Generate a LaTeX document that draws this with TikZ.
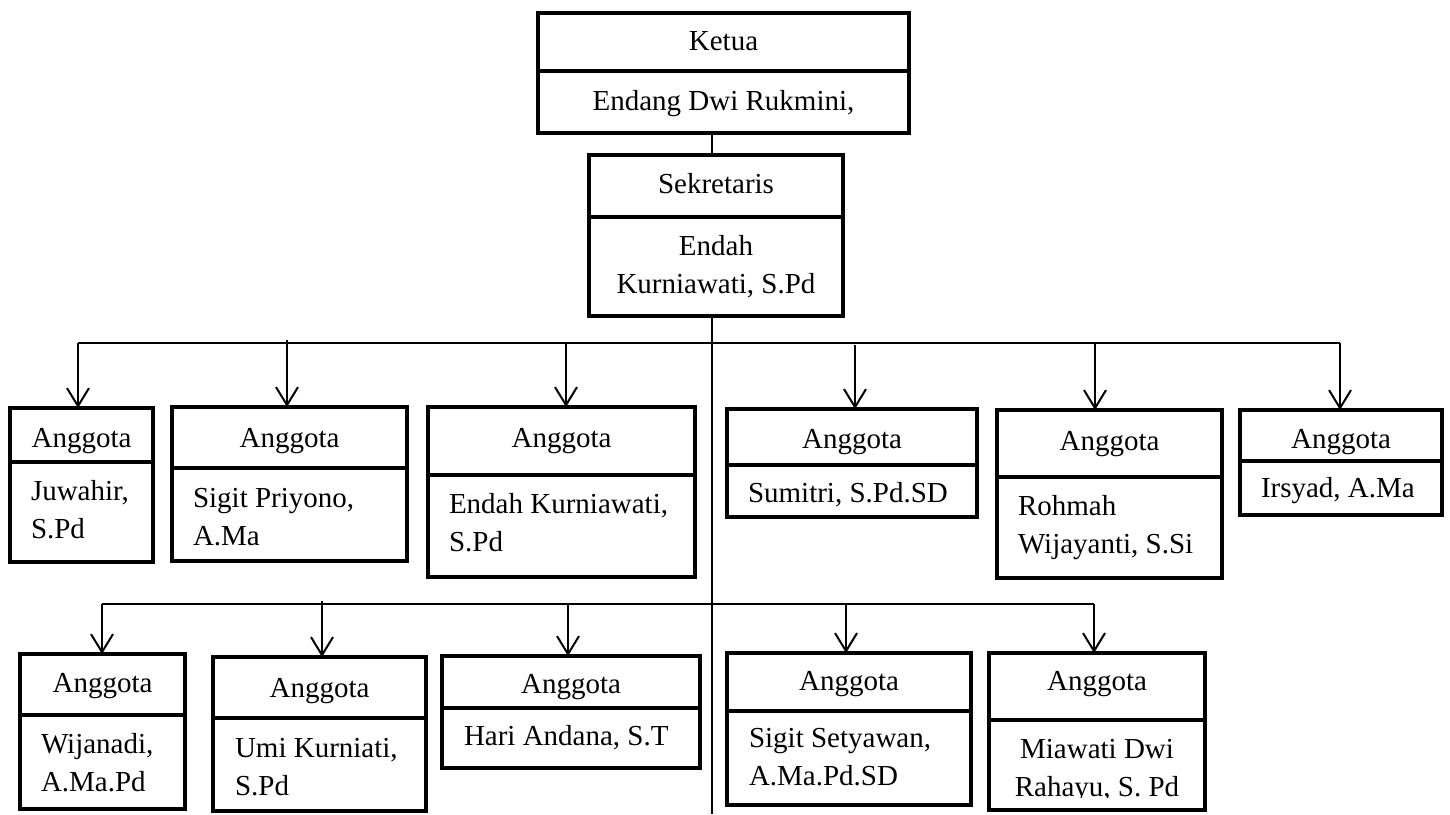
\documentclass[tikz,border=0pt]{standalone}
\usepackage{fontspec}
\setmainfont{Liberation Serif}
\usetikzlibrary{arrows.meta}
\hyphenpenalty=10000
\exhyphenpenalty=10000
\tikzset{
  cell/.style={draw, line width=4pt, inner sep=0pt, outer sep=0pt, anchor=north west,
    font=\fontsize{29}{38}\selectfont, align=flush center},
  lcell/.style={cell, align=flush left},
  tb/.style 2 args={text height=#1, text depth=#2},
  txt/.style={inner sep=0pt, outer sep=0pt, font=\fontsize{29}{38}\selectfont, align=flush center},
  link/.style={line width=2pt},
  bus/.style={line width=1.6pt},
  arr/.style={line width=2pt, -{Straight Barb[length=18pt,width=22pt]}},
}
\begin{document}
\begin{tikzpicture}[x=1pt,y=-1pt]
\useasboundingbox (0,0) rectangle (1450,814);

% Ketua
\node[cell, minimum width=371pt, minimum height=58pt, tb={37pt}{21pt}] (kh) at (538,13) {Ketua};
\node[cell, minimum width=371pt, minimum height=62pt, tb={39pt}{23pt}, text width=351pt] (kb) at (kh.south west) {Endang Dwi Rukmini,};
% Sekretaris
\node[cell, minimum width=254pt, minimum height=62pt, tb={38pt}{24pt}] (sh) at (589,155) {Sekretaris};
\node[cell, minimum width=254pt, minimum height=99pt, tb={38pt}{61pt}, text width=234pt] (sb) at (sh.south west) {Endah\\Kurniawati, S.Pd};

% Row 1 members
\node[cell, minimum width=143pt, minimum height=54pt, tb={39pt}{15pt}] (m1h) at (10,408) {Anggota};
\node[lcell, minimum width=143pt, minimum height=100pt, tb={38pt}{62pt}, text width=101pt] (m1b) at (m1h.south west) {Juwahir,\\S.Pd};

\node[cell, minimum width=235pt, minimum height=61pt, tb={40pt}{21pt}] (m2h) at (172,407) {Anggota};
\node[lcell, minimum width=235pt, minimum height=93pt, tb={39pt}{54pt}, text width=193pt] (m2b) at (m2h.south west) {Sigit Priyono,\\A.Ma};

\node[cell, minimum width=267pt, minimum height=68pt, tb={40pt}{28pt}] (m3h) at (428,407) {Anggota};
\node[lcell, minimum width=267pt, minimum height=102pt, tb={38pt}{64pt}, text width=225pt] (m3b) at (m3h.south west) {Endah Kurniawati,\\S.Pd};

\node[cell, minimum width=250pt, minimum height=56pt, tb={39pt}{17pt}] (m4h) at (727,409) {Anggota};
\node[lcell, minimum width=250pt, minimum height=52pt, tb={37pt}{15pt}, text width=208pt] (m4b) at (m4h.south west) {Sumitri, S.Pd.SD};

\node[cell, minimum width=225pt, minimum height=67pt, tb={40pt}{27pt}] (m5h) at (997,410) {Anggota};
\node[lcell, minimum width=225pt, minimum height=101pt, tb={38pt}{63pt}, text width=183pt] (m5b) at (m5h.south west) {Rohmah\\Wijayanti, S.Si};

\node[cell, minimum width=202pt, minimum height=51pt, tb={38pt}{13pt}] (m6h) at (1240,410) {Anggota};
\node[lcell, minimum width=202pt, minimum height=54pt, tb={36pt}{18pt}, text width=160pt] (m6b) at (m6h.south west) {Irsyad, A.Ma};

% Row 2 members
\node[cell, minimum width=165pt, minimum height=61pt, tb={38pt}{23pt}] (n1h) at (20,654) {Anggota};
\node[lcell, minimum width=165pt, minimum height=94pt, tb={38pt}{56pt}, text width=123pt] (n1b) at (n1h.south west) {Wijanadi,\\A.Ma.Pd};

\node[cell, minimum width=213pt, minimum height=61pt, tb={40pt}{21pt}] (n2h) at (213,657) {Anggota};
\node[lcell, minimum width=213pt, minimum height=93pt, tb={39pt}{54pt}, text width=169pt] (n2b) at (n2h.south west) {Umi Kurniati,\\S.Pd};

\node[cell, minimum width=258pt, minimum height=52pt, tb={37pt}{15pt}] (n3h) at (442,656) {Anggota};
\node[lcell, minimum width=258pt, minimum height=60pt, tb={37pt}{23pt}, text width=214pt] (n3b) at (n3h.south west) {Hari Andana, S.T};

\node[cell, minimum width=244pt, minimum height=58pt, tb={37pt}{21pt}] (n4h) at (727,653) {Anggota};
\node[lcell, minimum width=244pt, minimum height=94pt, tb={36pt}{58pt}, text width=200pt] (n4b) at (n4h.south west) {Sigit Setyawan,\\A.Ma.Pd.SD};

\node[cell, minimum width=216pt, minimum height=67pt, tb={37pt}{30pt}] (n5h) at (989,653) {Anggota};
\node[cell, minimum width=216pt, minimum height=90pt] (n5b) at (n5h.south west) {};
\begin{scope}
  \clip (989,720) rectangle (1205,797.5);
  \node[txt, anchor=north west, minimum width=216pt, minimum height=90pt, tb={38pt}{52pt}, text width=196pt] (n5t) at (n5b.north west) {Miawati Dwi\\Rahayu, S. Pd};
\end{scope}

% Spine
\coordinate (spine) at (712,814);
\draw[link] (kb.south -| spine) -- (sh.north -| spine);
\draw[link] (sb.south -| spine) -- (spine);

% Row 1 bus and arrows
\coordinate (b1l) at (78,343);
\coordinate (b1r) at (1340,343);
\coordinate (a12) at (287,340);
\coordinate (a13) at (566,343);
\coordinate (a14) at (855,345);
\coordinate (a15) at (1095,343);
\draw[bus] (b1l) -- (b1r);
\draw[arr] (b1l) -- (b1l |- m1h.north);
\draw[arr] (a12) -- (a12 |- m2h.north);
\draw[arr] (a13) -- (a13 |- m3h.north);
\draw[arr] (a14) -- (a14 |- m4h.north);
\draw[arr] (a15) -- (a15 |- m5h.north);
\draw[arr] (b1r) -- (b1r |- m6h.north);

% Row 2 bus and arrows
\coordinate (b2l) at (102,604);
\coordinate (b2r) at (1094,604);
\coordinate (a22) at (322,601);
\coordinate (a23) at (568,604);
\coordinate (a24) at (846,604);
\draw[bus] (b2l) -- (b2r);
\draw[arr] (b2l) -- (b2l |- n1h.north);
\draw[arr] (a22) -- (a22 |- n2h.north);
\draw[arr] (a23) -- (a23 |- n3h.north);
\draw[arr] (a24) -- (a24 |- n4h.north);
\draw[arr] (b2r) -- (b2r |- n5h.north);
\end{tikzpicture}
\end{document}
